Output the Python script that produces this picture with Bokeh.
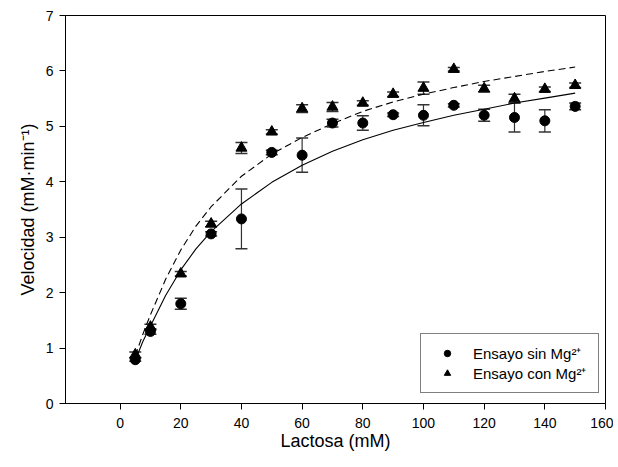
from bokeh.plotting import figure
from bokeh.models import ColumnDataSource, Whisker, Range1d, Legend, LegendItem, FixedTicker, TeeHead
from bokeh.embed import file_html
from bokeh.resources import INLINE

# ---- data ----
lactosa = [5, 10, 20, 30, 40, 50, 60, 70, 80, 90, 100, 110, 120, 130, 140, 150]
v_sin = [0.79, 1.30, 1.80, 3.06, 3.33, 4.53, 4.48, 5.06, 5.06, 5.21, 5.20, 5.38, 5.20, 5.16, 5.10, 5.36]
err_sin = [0.03, 0.05, 0.10, 0.04, 0.54, 0.04, 0.31, 0.07, 0.13, 0.03, 0.19, 0.03, 0.11, 0.26, 0.20, 0.06]
v_con = [0.88, 1.38, 2.34, 3.24, 4.61, 4.90, 5.32, 5.35, 5.42, 5.58, 5.69, 6.03, 5.68, 5.50, 5.67, 5.74]
err_con = [0.05, 0.05, 0.04, 0.05, 0.10, 0.04, 0.07, 0.08, 0.04, 0.04, 0.11, 0.03, 0.06, 0.08, 0.04, 0.04]

fit_x = [5, 7.5, 10, 15, 20, 25, 30, 40, 50, 60, 70, 80, 90, 100, 110, 120, 130, 140, 150]
fit_sin = [0.78, 1.12, 1.40, 1.95, 2.41, 2.79, 3.10, 3.60, 3.99, 4.30, 4.55, 4.76, 4.93, 5.07, 5.20, 5.31, 5.42, 5.51, 5.60]
fit_con = [0.86, 1.25, 1.60, 2.24, 2.77, 3.20, 3.55, 4.10, 4.50, 4.80, 5.05, 5.27, 5.44, 5.58, 5.70, 5.81, 5.90, 5.99, 6.07]

x_ticks = [0, 20, 40, 60, 80, 100, 120, 140, 160]
y_ticks = [0, 1, 2, 3, 4, 5, 6, 7]

label_sin = "Ensayo sin Mg\u00b2\u207a"
label_con = "Ensayo con Mg\u00b2\u207a"
x_label = "Lactosa (mM)"
y_label = "Velocidad (mM\u00b7min\u207b\u00b9)"

FONT = "Liberation Sans"

p = figure(width=613, height=455, output_backend="svg", toolbar_location=None,
           x_range=Range1d(-18, 160), y_range=Range1d(0, 7),
           min_border_left=65, min_border_top=15, min_border_right=8, min_border_bottom=52)
p.background_fill_color = "white"
p.border_fill_color = "white"
p.outline_line_color = "black"
p.outline_line_width = 1
p.grid.visible = False

for ax in (p.xaxis, p.yaxis):
    ax.axis_line_color = "black"
    ax.major_tick_line_color = "black"
    ax.major_tick_out = 6
    ax.major_tick_in = 0
    ax.minor_tick_line_color = None
    ax.major_label_text_font = FONT
    ax.major_label_text_font_size = "14px"
    ax.major_label_text_color = "black"
    ax.axis_label_text_font = FONT
    ax.axis_label_text_font_size = "18px"
    ax.axis_label_text_font_style = "normal"
    ax.axis_label_text_color = "black"

p.xaxis.ticker = FixedTicker(ticks=x_ticks)
p.yaxis.ticker = FixedTicker(ticks=y_ticks)
p.xaxis.axis_label = x_label
p.yaxis.axis_label = y_label
p.xaxis.major_label_standoff = 8
p.xaxis.axis_label_standoff = 0
p.yaxis.axis_label_standoff = 5
p.yaxis.major_label_standoff = 6

# fitted curves
p.line(fit_x, fit_sin, line_color="black", line_width=1.1)
p.line(fit_x, fit_con, line_color="black", line_width=1.1, line_dash="7 4")

# error bars
src_sin = ColumnDataSource(dict(x=lactosa, y=v_sin,
                                upper=[a + b for a, b in zip(v_sin, err_sin)],
                                lower=[a - b for a, b in zip(v_sin, err_sin)]))
src_con = ColumnDataSource(dict(x=lactosa, y=v_con,
                                upper=[a + b for a, b in zip(v_con, err_con)],
                                lower=[a - b for a, b in zip(v_con, err_con)]))
ecol = "#333333"
for src in (src_sin, src_con):
    w = Whisker(base="x", upper="upper", lower="lower", source=src,
                line_color=ecol, line_width=1.2,
                upper_head=TeeHead(size=12, line_color=ecol, line_width=1.5),
                lower_head=TeeHead(size=12, line_color=ecol, line_width=1.5))
    p.add_layout(w)

r_sin = p.scatter("x", "y", source=src_sin, marker="circle", size=10,
                  fill_color="black", line_color="black")
r_con = p.scatter("x", "y", source=src_con, marker="triangle", size=11,
                  fill_color="black", line_color="black")

legend = Legend(items=[LegendItem(label=label_sin, renderers=[r_sin]),
                       LegendItem(label=label_con, renderers=[r_con])],
                location=(355, 10), orientation="vertical",
                border_line_color="black", border_line_width=1,
                background_fill_color="white", background_fill_alpha=1,
                padding=9, spacing=0, margin=0,
                glyph_width=34, glyph_height=16, label_height=16,
                label_standoff=9, label_width=116,
                label_text_font=FONT, label_text_font_size="15px",
                label_text_color="black")
p.add_layout(legend)

open("out.html", "w").write(file_html(p, INLINE))
